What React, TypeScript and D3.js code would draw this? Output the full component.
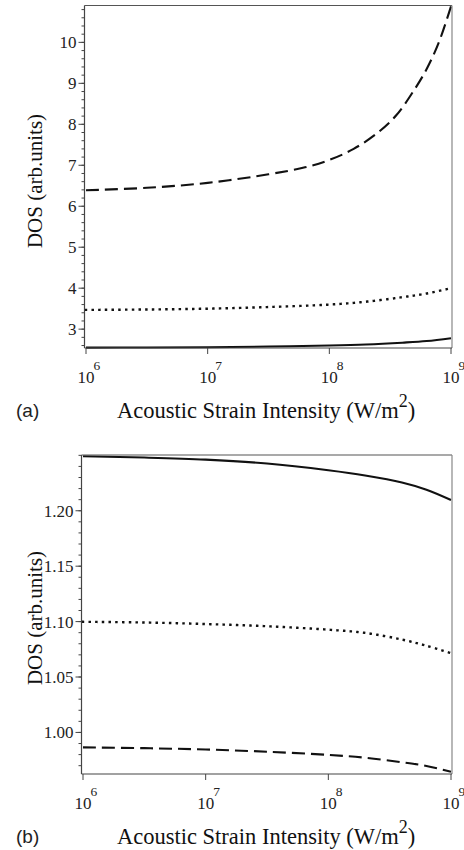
import React from "react";
import * as d3 from "d3";

// Panel (a) data: x as log10 of intensity (W/m^2)
const xExpADashed = [6, 6.5, 7, 7.5, 7.8, 8.0, 8.2, 8.4, 8.55, 8.7, 8.8, 8.9, 9];
const dashedA = [6.39, 6.45, 6.57, 6.78, 6.95, 7.13, 7.40, 7.80, 8.22, 8.85, 9.35, 10.0, 10.88];
const xExpA = [6, 6.5, 7, 7.5, 8, 8.3, 8.6, 8.8, 9];
const dottedA = [3.47, 3.48, 3.5, 3.54, 3.6, 3.67, 3.78, 3.87, 4.0];
const solidA = [2.55, 2.553, 2.56, 2.575, 2.6, 2.625, 2.67, 2.71, 2.78];

// Panel (b) data
const xExpB = [6, 6.5, 7, 7.5, 8, 8.3, 8.6, 8.8, 9];
const solidB = [1.2492, 1.248, 1.2461, 1.2426, 1.2365, 1.2318, 1.2255, 1.219, 1.2097];
const dottedB = [1.0998, 1.0992, 1.0978, 1.0958, 1.0927, 1.0898, 1.0838, 1.0782, 1.0715];
const dashedB = [0.9865, 0.9858, 0.9846, 0.9826, 0.9797, 0.9772, 0.9731, 0.9697, 0.9645];

const xTickExps = [6, 7, 8, 9];
const yTicksA = [3, 4, 5, 6, 7, 8, 9, 10];
const yTicksB = [1.0, 1.05, 1.1, 1.15, 1.2];

const SERIF = "'Liberation Serif', 'DejaVu Serif', serif";
const SANS = "'Liberation Sans', Arial, sans-serif";

type Series = { exps: number[]; vals: number[]; kind: "solid" | "dashed" | "dotted" };

function Panel(props: {
  x0: number; x1: number; yTop: number; yBot: number;
  yDomain: [number, number]; yTicks: number[]; yFmt: (v: number) => string; minorStep: number;
  series: Series[]; tag: string; yLabelY: number;
}) {
  const { x0, x1, yTop, yBot, yDomain, yTicks, yFmt, minorStep, series, tag, yLabelY } = props;
  const xs = d3.scaleLog().domain([1e6, 1e9]).range([x0, x1]);
  const ys = d3.scaleLinear().domain(yDomain).range([yBot, yTop]);
  const boxL = x0 - 1.5;
  const minors: number[] = [];
  const start = Math.ceil(yDomain[0] / minorStep - 1e-6);
  for (let k = start; k * minorStep <= yDomain[1] + 1e-9; k++) minors.push(+(k * minorStep).toFixed(4));
  const line = d3.line<[number, number]>()
    .x(d => xs(Math.pow(10, d[0])))
    .y(d => ys(d[1]))
    .curve(d3.curveCatmullRom.alpha(0.5));
  return (
    <g>
      {series.map((s, i) => (
        <path key={i} d={line(s.exps.map((e, j) => [e, s.vals[j]] as [number, number])) || ""}
          fill="none" stroke="#111"
          strokeWidth={s.kind === "dotted" ? 2.4 : 2.1}
          strokeDasharray={s.kind === "dashed" ? "13,6" : s.kind === "dotted" ? "0.1,6.6" : undefined}
          strokeLinecap={s.kind === "dotted" ? "square" : "butt"} />
      ))}
      <line x1={boxL} x2={x1 + 1} y1={yTop} y2={yTop} stroke="#555" strokeWidth={1.2} />
      <line x1={x1 + 1} x2={x1 + 1} y1={yTop} y2={yBot} stroke="#888" strokeWidth={1.2} />
      <line x1={boxL} x2={boxL} y1={yTop} y2={yBot} stroke="#444" strokeWidth={1.2} />
      <line x1={boxL} x2={x1 + 1} y1={yBot} y2={yBot} stroke="#444" strokeWidth={1.2} />
      {minors.map((m, i) => (
        <line key={"m" + i} x1={boxL - 3} x2={boxL} y1={ys(m)} y2={ys(m)} stroke="#444" strokeWidth={1} />
      ))}
      {yTicks.map((t, i) => (
        <g key={"y" + i}>
          <line x1={boxL - 6} x2={boxL} y1={ys(t)} y2={ys(t)} stroke="#444" strokeWidth={1} />
          <text x={boxL - 8} y={ys(t) + 6} textAnchor="end" fontFamily={SERIF} fontSize={17} fill="#222">{yFmt(t)}</text>
        </g>
      ))}
      {xTickExps.map((e, i) => {
        const xp = xs(Math.pow(10, e));
        return (
          <g key={"x" + i}>
            <line x1={xp} x2={xp} y1={yBot} y2={yBot + 6} stroke="#444" strokeWidth={1} />
            <text x={xp} y={yBot + 35} textAnchor="middle" fontFamily={SERIF} fontSize={17} fill="#222">10</text>
            <text x={xp + 7.5} y={yBot + 22} textAnchor="start" fontFamily={SERIF} fontSize={13.5} fill="#222">{e}</text>
          </g>
        );
      })}
      <text transform={`translate(42,${yLabelY}) rotate(-90)`} textAnchor="middle" fontFamily={SERIF} fontSize={21} fill="#111">DOS (arb.units)</text>
      <text x={117} y={yBot + 70} fontFamily={SERIF} fontSize={22.5} fill="#111">
        Acoustic Strain Intensity (W/m
        <tspan dy={-11} fontSize={18}>2</tspan>
        <tspan dy={11}>)</tspan>
      </text>
      <text x={16} y={yBot + 69} fontFamily={SANS} fontSize={19} fill="#222">{tag}</text>
    </g>
  );
}

export default function App() {
  const sa: Series[] = [
    { exps: xExpADashed, vals: dashedA, kind: "dashed" },
    { exps: xExpA, vals: dottedA, kind: "dotted" },
    { exps: xExpA, vals: solidA, kind: "solid" },
  ];
  const sb: Series[] = [
    { exps: xExpB, vals: solidB, kind: "solid" },
    { exps: xExpB, vals: dottedB, kind: "dotted" },
    { exps: xExpB, vals: dashedB, kind: "dashed" },
  ];
  return (
    <svg width={464} height={850} style={{ position: "absolute", left: 0, top: 0, background: "#fff" }}>
      <rect width={464} height={850} fill="#fff" />
      <Panel x0={86} x1={451} yTop={5.5} yBot={348} yDomain={[2.54, 10.9]} yTicks={yTicksA}
        yFmt={v => String(v)} minorStep={0.2} series={sa} tag="(a)" yLabelY={181} />
      <Panel x0={83} x1={451} yTop={455} yBot={774} yDomain={[0.9625, 1.2503]} yTicks={yTicksB}
        yFmt={v => v.toFixed(2)} minorStep={0.01} series={sb} tag="(b)" yLabelY={618} />
    </svg>
  );
}
